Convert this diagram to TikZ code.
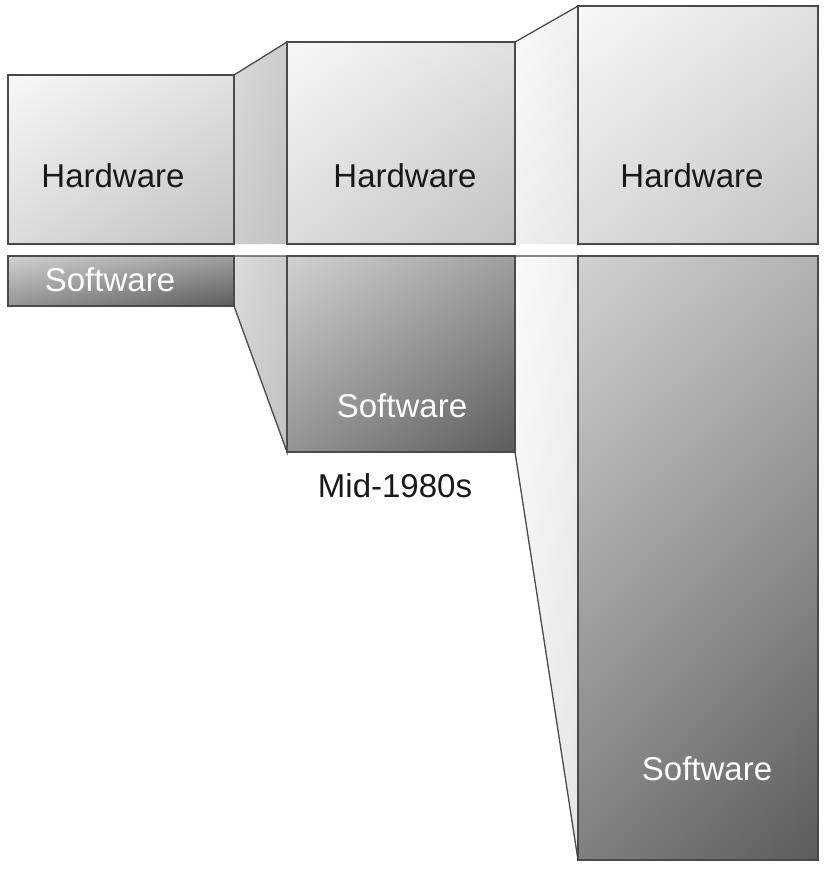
\documentclass[tikz,border=0pt]{standalone}
\usepackage{fontspec}
\setmainfont{Liberation Sans}
\usetikzlibrary{shadings}
\definecolor{edge}{HTML}{4A4A4A}
\tikzset{
  hwbox/.style={draw=edge, line width=1.3pt, upper left=white!97!black, upper right=white!88!black, lower left=white!86!black, lower right=white!76!black},
  swbox/.style={draw=edge, line width=1.3pt, upper left=white!82!black, upper right=white!62!black, lower left=white!58!black, lower right=white!36!black},
  swtall/.style={draw=edge, line width=1.3pt, upper left=white!82!black, upper right=white!70!black, lower left=white!50!black, lower right=white!36!black},
  conA/.style={draw=edge, line width=1.3pt, upper left=white!86!black, upper right=white!80!black, lower left=white!80!black, lower right=white!76!black},
  conB/.style={draw=edge, line width=1.3pt, upper left=white!98!black, upper right=white!94!black, lower left=white!94!black, lower right=white!90!black},
  hwtext/.style={font=\fontsize{33}{36}\selectfont, text=black!90},
  swtext/.style={font=\fontsize{33}{36}\selectfont, text=white},
  captext/.style={font=\fontsize{33}{36}\selectfont, text=black!90}
}
\begin{document}
\begin{tikzpicture}[x=1pt,y=-1pt]
\useasboundingbox (0,0) rectangle (824,870);
% connectors
\path[conA] (234,244) -- (234,75) -- (287,42) -- (287,244);
\path[conA] (234,256) -- (287,256) -- (287,452) -- (234,306);
\path[conB] (515,244) -- (515,42) -- (578,6) -- (578,244);
\path[conB] (515,256) -- (578,256) -- (578,860) -- (515,452);
% hardware boxes
\path[hwbox] (8,75) rectangle (234,244);
\path[hwbox] (287,42) rectangle (515,244);
\path[hwbox] (578,6) rectangle (818,244);
% software boxes
\path[swbox] (8,256) rectangle (234,306);
\path[swbox] (287,256) rectangle (515,452);
\path[swtall] (578,256) rectangle (818,860);
% texts
\node[hwtext] (h1) at (113,176) {Hardware};
\node[hwtext] (h2) at (405,176) {Hardware};
\node[hwtext] (h3) at (692,176) {Hardware};
\node[swtext] (s1) at (110,280) {Software};
\node[swtext] (s2) at (402,406) {Software};
\node[swtext] (s3) at (707,769) {Software};
\node[captext] (cap) at (395,486) {Mid-1980s};
\end{tikzpicture}
\end{document}
